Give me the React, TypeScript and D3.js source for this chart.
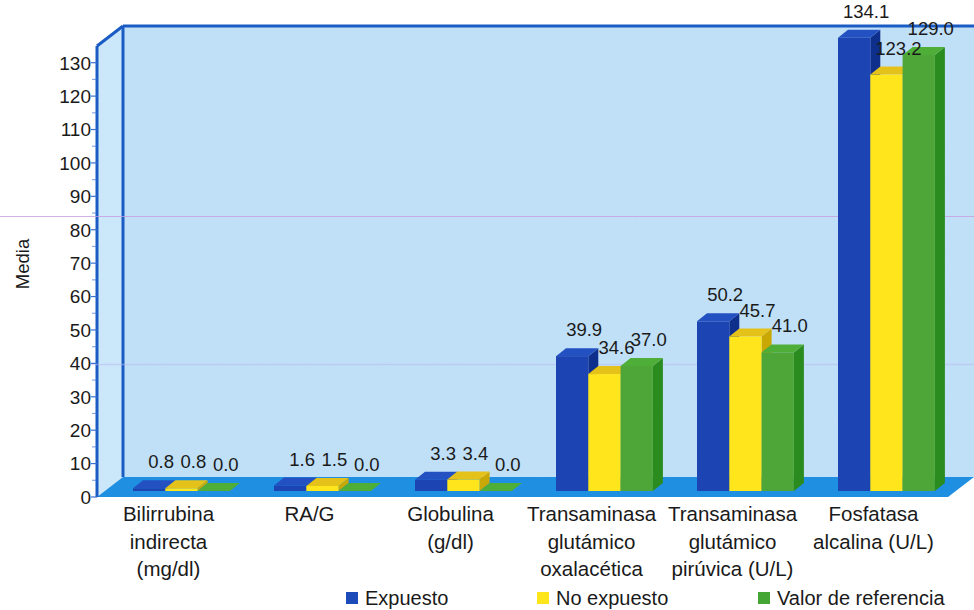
import React from "react";
import * as d3 from "d3";

const categories: string[][] = [
  ["Bilirrubina", "indirecta", "(mg/dl)"],
  ["RA/G"],
  ["Globulina", "(g/dl)"],
  ["Transaminasa", "glutámico", "oxalacética"],
  ["Transaminasa", "glutámico", "pirúvica (U/L)"],
  ["Fosfatasa", "alcalina (U/L)"],
];
const seriesNames = ["Expuesto", "No expuesto", "Valor de referencia"];
const expuesto = [0.8, 1.6, 3.3, 39.9, 50.2, 134.1];
const noExpuesto = [0.8, 1.5, 3.4, 34.6, 45.7, 123.2];
const valorReferencia = [0.0, 0.0, 0.0, 37.0, 41.0, 129.0];
const yTicks = [0, 10, 20, 30, 40, 50, 60, 70, 80, 90, 100, 110, 120, 130];
const yTitle = "Media";

const series = [expuesto, noExpuesto, valorReferencia];
const colors = [
  { front: "#1c45b3", top: "#2451c2", side: "#0f2f8c", legend: "#1c4ab8" },
  { front: "#ffe51c", top: "#e4c21a", side: "#c9a804", legend: "#ffe51c" },
  { front: "#4da637", top: "#4fae38", side: "#2a8b1f", legend: "#45a535" },
];

const W = 974;
const H = 610;
const FX0 = 97; // front-plane left
const FX1 = 948; // front-plane right
const DX = 26; // wall depth offset
const DY = -20;
const BDX = 10; // bar depth
const BDY = -8;
const FONT = "'Liberation Sans', Arial, Helvetica, sans-serif";

export default function App() {
  const yFront = d3.scaleLinear().domain([0, 135]).range([497, 46]);
  const yBar = d3.scaleLinear().domain([0, 135]).range([491, 491 - 135 * 3.38]);
  const x = d3
    .scaleBand<number>()
    .domain(categories.map((_, i) => i))
    .range([98, 944])
    .paddingInner(0)
    .paddingOuter(0);
  const groupStart = 35;
  const barW = 32.3;
  const xs = d3
    .scaleBand<number>()
    .domain([0, 1, 2])
    .range([groupStart, groupStart + barW * 3]);

  const yTop = yFront(135);
  const yBase = yFront(0);
  const minorTicks = d3.range(5, 135, 10);

  const bars: React.ReactNode[] = [];
  categories.forEach((_, ci) => {
    series.forEach((vals, si) => {
      const v = vals[ci];
      const x0 = (x(ci) as number) + (xs(si) as number);
      const x1 = x0 + xs.bandwidth();
      const b = yBar(0);
      const t = yBar(v);
      const c = colors[si];
      bars.push(
        <g key={`b${ci}-${si}`}>
          <polygon
            points={`${x1},${t} ${x1 + BDX},${t + BDY} ${x1 + BDX},${b + BDY} ${x1},${b}`}
            fill={c.side}
          />
          <polygon
            points={`${x0},${t} ${x0 + BDX},${t + BDY} ${x1 + BDX},${t + BDY} ${x1},${t}`}
            fill={c.top}
          />
          <rect x={x0} y={t} width={x1 - x0} height={Math.max(0, b - t)} fill={c.front} />
        </g>
      );
    });
  });

  const labels: React.ReactNode[] = [];
  categories.forEach((_, ci) => {
    series.forEach((vals, si) => {
      const v = vals[ci];
      const x0 = (x(ci) as number) + (xs(si) as number);
      const cx = x0 + xs.bandwidth() / 2 + 12;
      labels.push(
        <text
          key={`l${ci}-${si}`}
          x={cx}
          y={yBar(v) - 20}
          textAnchor="middle"
          fontSize={18.5}
          fill="#1a1a1a"
        >
          {v.toFixed(1)}
        </text>
      );
    });
  });

  const legendX = [346, 537, 758];

  return (
    <svg
      width={W}
      height={H}
      style={{ position: "absolute", left: 0, top: 0, background: "#ffffff" }}
      fontFamily={FONT}
    >
      <defs>
        <filter id="grain" x="0" y="0" width="100%" height="100%">
          <feTurbulence type="fractalNoise" baseFrequency="0.9" numOctaves="2" seed="3" result="n" />
          <feColorMatrix
            in="n"
            type="matrix"
            values="0 0 0 0 0.55  0 0 0 0 0.75  0 0 0 0 0.95  0 0 0 0.35 0"
            result="c"
          />
          <feComposite in="c" in2="SourceGraphic" operator="in" result="g" />
          <feMerge>
            <feMergeNode in="SourceGraphic" />
            <feMergeNode in="g" />
          </feMerge>
        </filter>
      </defs>

      {/* back wall */}
      <rect
        x={FX0 + DX}
        y={yTop + DY}
        width={W - (FX0 + DX) + 10}
        height={yBase - yTop}
        fill="#bfe0f7"
        filter="url(#grain)"
      />
      {/* left wall */}
      <polygon
        points={`${FX0},${yTop} ${FX0 + DX},${yTop + DY} ${FX0 + DX},${yBase + DY} ${FX0},${yBase}`}
        fill="#cde8fa"
        filter="url(#grain)"
      />
      {/* floor */}
      <polygon
        points={`${FX0},${yBase} ${FX1},${yBase} ${FX1 + DX},${yBase + DY} ${FX0 + DX},${yBase + DY}`}
        fill="#1f8fe2"
      />
      {/* wall borders */}
      <g stroke="#1a5cc4" strokeWidth={3} fill="none" strokeLinejoin="round">
        <line x1={FX0 + DX} y1={yTop + DY} x2={W + 5} y2={yTop + DY} />
        <line x1={FX0 + DX} y1={yTop + DY} x2={FX0 + DX} y2={yBase + DY} />
        <line x1={FX0} y1={yTop} x2={FX0 + DX} y2={yTop + DY} />
        <line x1={FX0} y1={yTop} x2={FX0} y2={yBase} />
      </g>

      {/* scan lines */}
      <line x1={0} x2={W} y1={216.5} y2={216.5} stroke="#c89ee0" strokeWidth={1} opacity={0.8} />
      <line x1={90} x2={W} y1={364.5} y2={364.5} stroke="#b8b8f0" strokeWidth={1.5} opacity={0.5} />

      {/* ticks */}
      <g stroke="#3a6fd0" strokeWidth={1.2}>
        {yTicks.map((t) => (
          <line key={`t${t}`} x1={FX0 - 6} x2={FX0} y1={yFront(t)} y2={yFront(t)} />
        ))}
        {minorTicks.map((t) => (
          <line key={`m${t}`} x1={FX0 - 5} x2={FX0} y1={yFront(t)} y2={yFront(t)} opacity={0.6} />
        ))}
      </g>
      <g fontSize={19} fill="#1a1a1a" textAnchor="end">
        {yTicks.map((t) => (
          <text key={`tl${t}`} x={FX0 - 6} y={yFront(t)} dy="0.36em">
            {t}
          </text>
        ))}
      </g>
      <text
        transform={`translate(29,264) rotate(-90)`}
        textAnchor="middle"
        fontSize={18.5}
        fill="#1a1a1a"
      >
        {yTitle}
      </text>

      {bars}
      {labels}

      {/* category labels */}
      <g fontSize={20.5} fill="#1a1a1a" textAnchor="middle">
        {categories.map((lines, ci) => (
          <text key={`c${ci}`} x={(x(ci) as number) + x.bandwidth() / 2} y={521}>
            {lines.map((ln, li) => (
              <tspan key={li} x={(x(ci) as number) + x.bandwidth() / 2} dy={li === 0 ? 0 : 27.5}>
                {ln}
              </tspan>
            ))}
          </text>
        ))}
      </g>

      {/* legend */}
      <g fontSize={20} fill="#1a1a1a">
        {seriesNames.map((n, i) => (
          <g key={`lg${i}`}>
            <rect x={legendX[i]} y={592} width={12} height={12} fill={colors[i].legend} />
            <text x={legendX[i] + 19} y={605}>
              {n}
            </text>
          </g>
        ))}
      </g>
    </svg>
  );
}
